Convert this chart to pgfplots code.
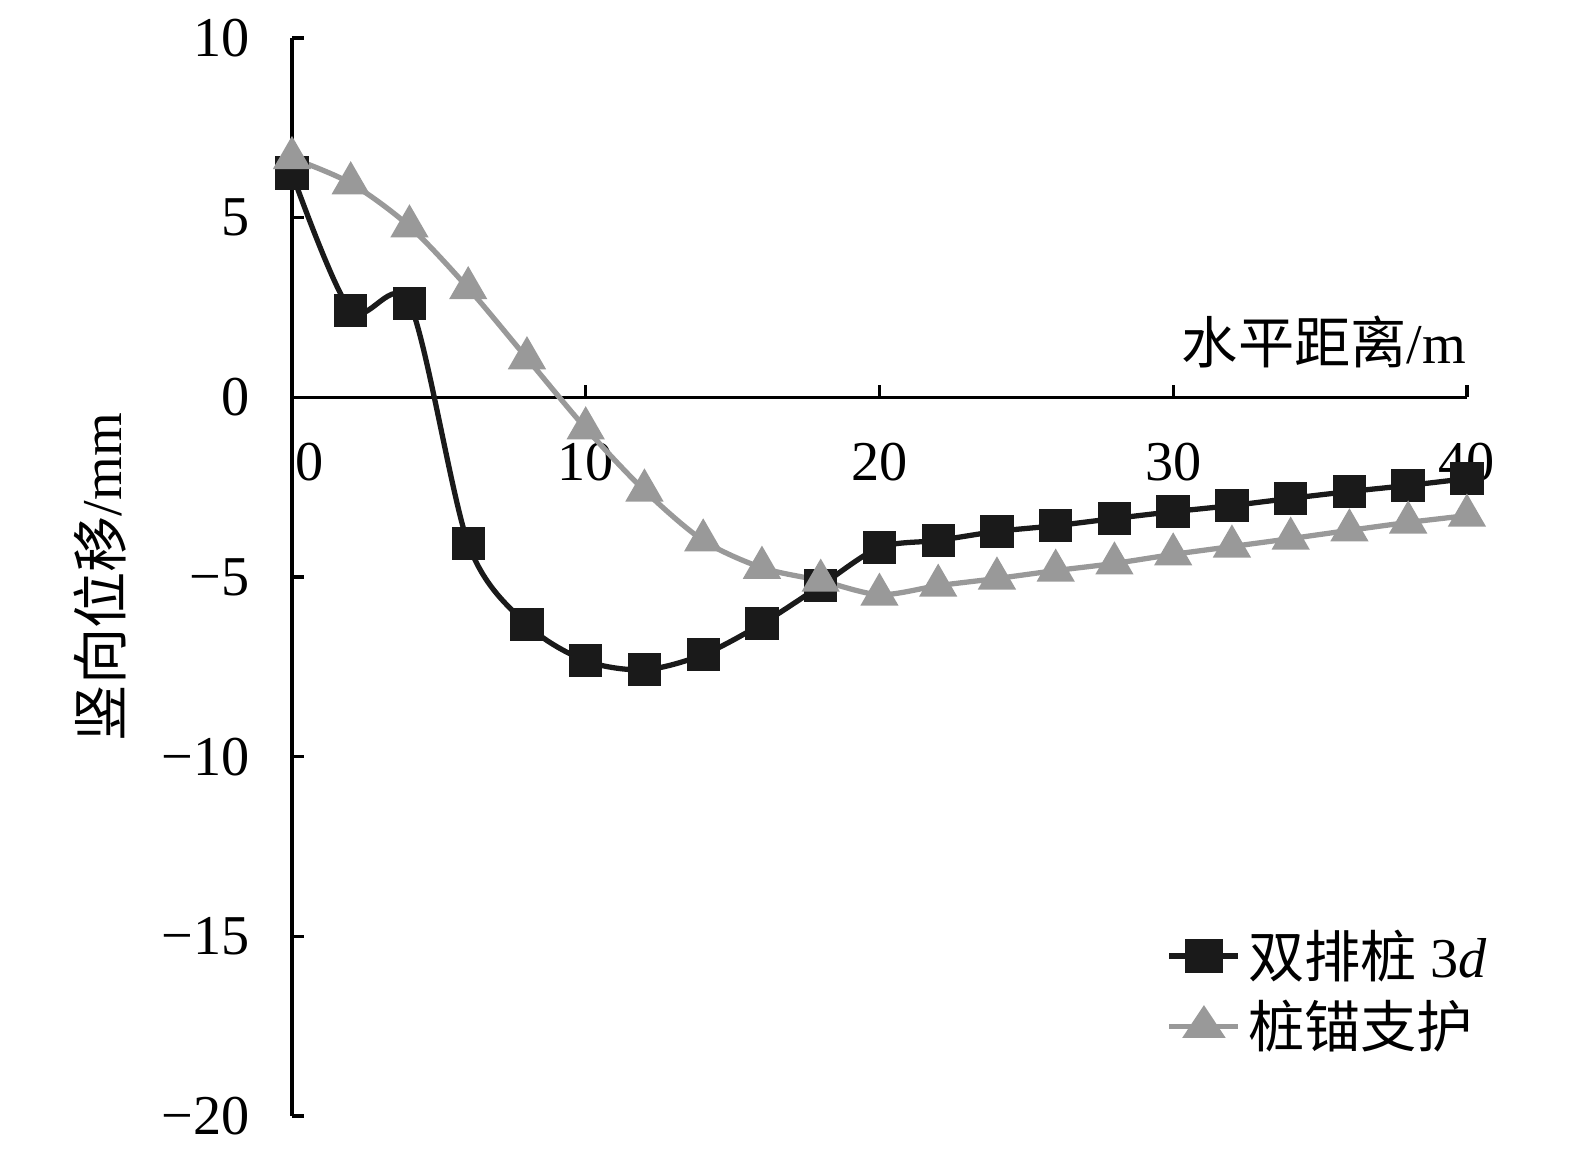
\documentclass[border=0pt]{standalone}
\usepackage{fontspec}
\setmainfont{Liberation Serif}
\newfontfamily\cjk{Noto Sans CJK SC}
\usepackage{pgfplots}
\pgfplotsset{compat=1.18}
\definecolor{sqblack}{HTML}{1A1A1A}
\definecolor{trigray}{HTML}{999999}
\begin{document}
\begin{tikzpicture}
\begin{axis}[
  scale only axis,
  width=11.75cm, height=10.78cm,
  xmin=0, xmax=40, ymin=-20, ymax=10,
  axis lines=middle,
  axis line style={-, line width=0.9pt, black},
  hide obscured x ticks=false,
  hide obscured y ticks=false,
  xtick={0,10,20,30,40},
  ytick={-20,-15,-10,-5,0,5,10},
  xticklabels={\hspace*{0.36cm}0,10,20,30,40},
  yticklabels={−20,−15,−10,−5,0,5,10},
  tick align=inside,
  major tick length=0.12cm,
  tick style={line width=0.9pt, black},
  /pgf/number format/assume math mode=true,
  tick label style={font=\fontsize{16}{19}\selectfont},
  xticklabel style={yshift=-0.33cm},
  yticklabel style={xshift=-0.3cm},
  xlabel={{\cjk 水平距离}/m},
  ylabel={{\cjk 竖向位移}/mm},
  label style={font=\fontsize{16}{19}\selectfont},
  xlabel style={at={(axis cs:40,0.8)}, anchor=south east, inner sep=0pt},
  ylabel style={at={(axis description cs:-0.163,0.5)}, anchor=center, rotate=90},
  legend style={at={(axis cs:29.4,-14.4)}, anchor=north west, draw=none, fill=none,
    font=\fontsize{16}{19}\selectfont, row sep=0.04cm},
  legend image post style={xscale=1.15},
  legend cell align=left,
  clip=false,
]
\addplot[sqblack, line width=1.5pt, smooth, tension=0.5, mark=square*, mark size=4pt,
  mark options={solid, fill=sqblack}] coordinates {
(0,6.24) (2,2.42) (4,2.62) (6,-4.07) (8,-6.32) (10,-7.33) (12,-7.58) (14,-7.16)
(16,-6.30) (18,-5.24) (20,-4.18) (22,-3.98) (24,-3.73) (26,-3.57) (28,-3.37)
(30,-3.18) (32,-3.01) (34,-2.81) (36,-2.62) (38,-2.45) (40,-2.26)};
\addlegendentry{{\cjk 双排桩} 3\textit{d}}
\addplot[trigray, line width=1.5pt, smooth, tension=0.5, mark=triangle*, mark size=4.8pt,
  mark options={solid, fill=trigray}] coordinates {
(0,6.66) (2,5.96) (4,4.76) (6,3.04) (8,1.09) (10,-0.86) (12,-2.59) (14,-3.98)
(16,-4.74) (18,-5.10) (20,-5.49) (22,-5.24) (24,-5.04) (26,-4.82) (28,-4.62)
(30,-4.37) (32,-4.15) (34,-3.93) (36,-3.70) (38,-3.48) (40,-3.29)};
\addlegendentry{{\cjk 桩锚支护}}
\path (axis cs:-9.94,11.06) rectangle (axis cs:43.68,-21.25);
\end{axis}
\end{tikzpicture}
\end{document}
